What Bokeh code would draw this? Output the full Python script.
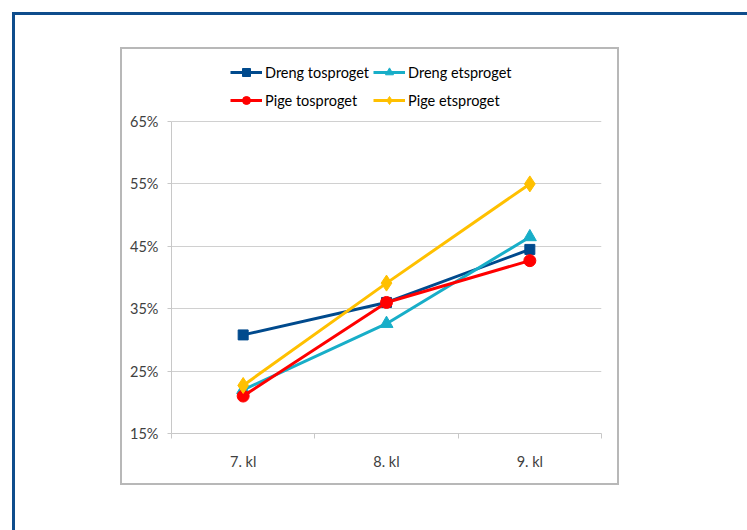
from bokeh.plotting import figure
from bokeh.models import (FixedTicker, PrintfTickFormatter, Legend, LegendItem,
                          Range1d)
from bokeh.embed import file_html
from bokeh.resources import INLINE

categories = ["7. kl", "8. kl", "9. kl"]
dreng_tosproget = [30.8, 36.0, 44.5]
dreng_etsproget = [22.0, 32.6, 46.5]
pige_tosproget = [21.0, 36.0, 42.7]
pige_etsproget = [22.7, 39.1, 55.0]
y_ticks = [15, 25, 35, 45, 55, 65]

FONT = "Lato"
TXT = "#404040"

x = [i + 0.5 for i in range(len(categories))]

# layout (pixels): plot frame spans 171..601 x 52..433 on the page; 65% sits at y=121
px_per_unit = (433 - 121) / (y_ticks[-1] - y_ticks[0])
y_top = y_ticks[-1] + (121 - 52) / px_per_unit

shadows = ", ".join([
    "0 0 0 2px #b8b8b8",
    "93px 166px 0 200px #ffffff",
    "90px 163px 0 200px #0f4d8c",
])

p = figure(width=495, height=434, output_backend="svg", toolbar_location=None,
           x_range=Range1d(0, len(categories)), y_range=Range1d(y_ticks[0], y_top),
           min_border_left=49, min_border_right=16, min_border_top=3,
           min_border_bottom=50,
           styles={"transform": "translate(122px, 49px)",
                   "box-shadow": shadows})
p.outline_line_color = None
p.background_fill_color = "white"
p.border_fill_color = "white"

p.xgrid.visible = False
p.ygrid.ticker = FixedTicker(ticks=y_ticks)
p.ygrid.grid_line_color = "#d0d0d0"
p.ygrid.grid_line_width = 1

ya = p.yaxis[0]
ya.ticker = FixedTicker(ticks=y_ticks)
ya.bounds = (y_ticks[0], y_ticks[-1])
ya.formatter = PrintfTickFormatter(format="%d%%")
ya.axis_line_color = "#c8c8c8"
ya.major_tick_line_color = "#c8c8c8"
ya.major_tick_out = 4
ya.major_tick_in = 0
ya.minor_tick_line_color = None
ya.major_label_standoff = 9
ya.major_label_text_font = FONT
ya.major_label_text_font_size = "14.5px"
ya.major_label_text_color = TXT

xa = p.xaxis[0]
xa.ticker = FixedTicker(ticks=x, minor_ticks=list(range(len(categories) + 1)))
xa.major_label_overrides = {xi: c for xi, c in zip(x, categories)}
xa.axis_line_color = "#c8c8c8"
xa.major_tick_line_color = None
xa.major_tick_out = 0
xa.major_tick_in = 0
xa.minor_tick_line_color = "#c8c8c8"
xa.minor_tick_out = 5
xa.minor_tick_in = 0
xa.major_label_standoff = 14
xa.major_label_text_font = FONT
xa.major_label_text_font_size = "14.5px"
xa.major_label_text_color = TXT

series = [
    ("Dreng tosproget", dreng_tosproget, "#004a8d", "square", 10),
    ("Dreng etsproget", dreng_etsproget, "#18aec8", "triangle", 13),
    ("Pige tosproget", pige_tosproget, "#ff0000", "circle", 12),
    ("Pige etsproget", pige_etsproget, "#ffc000", "diamond", 16),
]

items = []
for name, ys, col, mk, sz in series:
    l = p.line(x, ys, line_color=col, line_width=3)
    s = p.scatter(x, ys, marker=mk, size=sz, fill_color=col, line_color=col)
    items.append(LegendItem(label=name, renderers=[l, s]))

legend = Legend(items=items, orientation="horizontal", ncols=2,
                location=(59, 321), padding=0, margin=0, spacing=4,
                glyph_width=32, glyph_height=20, label_height=24,
                label_standoff=3, label_text_font=FONT,
                label_text_font_size="14.5px", label_text_color="#000000",
                background_fill_alpha=0, border_line_color=None)
p.add_layout(legend, "center")

open("out.html", "w").write(file_html(p, INLINE))
